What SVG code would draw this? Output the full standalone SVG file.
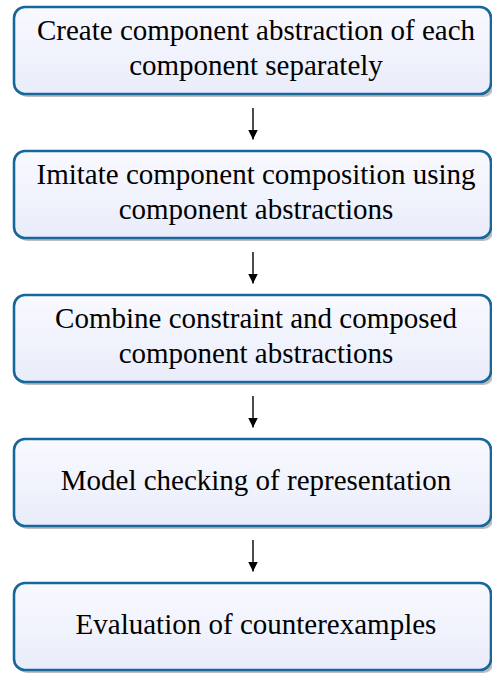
<svg xmlns="http://www.w3.org/2000/svg" width="492" height="673" viewBox="0 0 492 673">
  <style>
    .box { fill: url(#boxFill); stroke: #17679a; stroke-width: 2.6; }
    .shadow { fill: #bdbdbd; }
    .label { font-family: 'Liberation Serif', 'Times New Roman', serif; font-size: 29px; fill: #000; text-anchor: middle; }
    .conn { stroke: #000; stroke-width: 1.4; fill: none; marker-end: url(#arrow); }
  </style>
  <defs>
    <linearGradient id="boxFill" x1="0" y1="0" x2="0" y2="1">
      <stop offset="0" stop-color="#f9f9ff"/>
      <stop offset="1" stop-color="#e9edfa"/>
    </linearGradient>
    <marker id="arrow" viewBox="0 0 10 10" refX="10" refY="5" markerWidth="10" markerHeight="10" markerUnits="userSpaceOnUse" orient="auto">
      <path d="M0,0 L10,5 L0,10 Z" fill="#000"/>
    </marker>
  </defs>

  <rect width="492" height="673" fill="#fff"/>

  <g id="node-abstraction">
    <rect class="shadow" x="17" y="10" width="477" height="87" rx="11"/>
    <rect class="box" x="14" y="7" width="477" height="87" rx="11"/>
    <text class="label" x="256" y="40">Create component abstraction of each</text>
    <text class="label" x="256" y="75">component separately</text>
  </g>

  <g id="node-composition">
    <rect class="shadow" x="17" y="154" width="477" height="87" rx="11"/>
    <rect class="box" x="14" y="151" width="477" height="87" rx="11"/>
    <text class="label" x="256" y="184">Imitate component composition using</text>
    <text class="label" x="256" y="219">component abstractions</text>
  </g>

  <g id="node-combine">
    <rect class="shadow" x="17" y="298" width="477" height="87" rx="11"/>
    <rect class="box" x="14" y="295" width="477" height="87" rx="11"/>
    <text class="label" x="256" y="328">Combine constraint and composed</text>
    <text class="label" x="256" y="363">component abstractions</text>
  </g>

  <g id="node-modelcheck">
    <rect class="shadow" x="17" y="442" width="477" height="87" rx="11"/>
    <rect class="box" x="14" y="439" width="477" height="87" rx="11"/>
    <text class="label" x="256" y="490">Model checking of representation</text>
  </g>

  <g id="node-evaluation">
    <rect class="shadow" x="17" y="586" width="477" height="87" rx="11"/>
    <rect class="box" x="14" y="583" width="477" height="87" rx="11"/>
    <text class="label" x="256" y="634">Evaluation of counterexamples</text>
  </g>

  <g id="connectors">
    <line class="conn" x1="253" y1="108" x2="253" y2="139.5"/>
    <line class="conn" x1="253" y1="252" x2="253" y2="283.5"/>
    <line class="conn" x1="253" y1="396" x2="253" y2="427.5"/>
    <line class="conn" x1="253" y1="540" x2="253" y2="571.5"/>
  </g>
</svg>
